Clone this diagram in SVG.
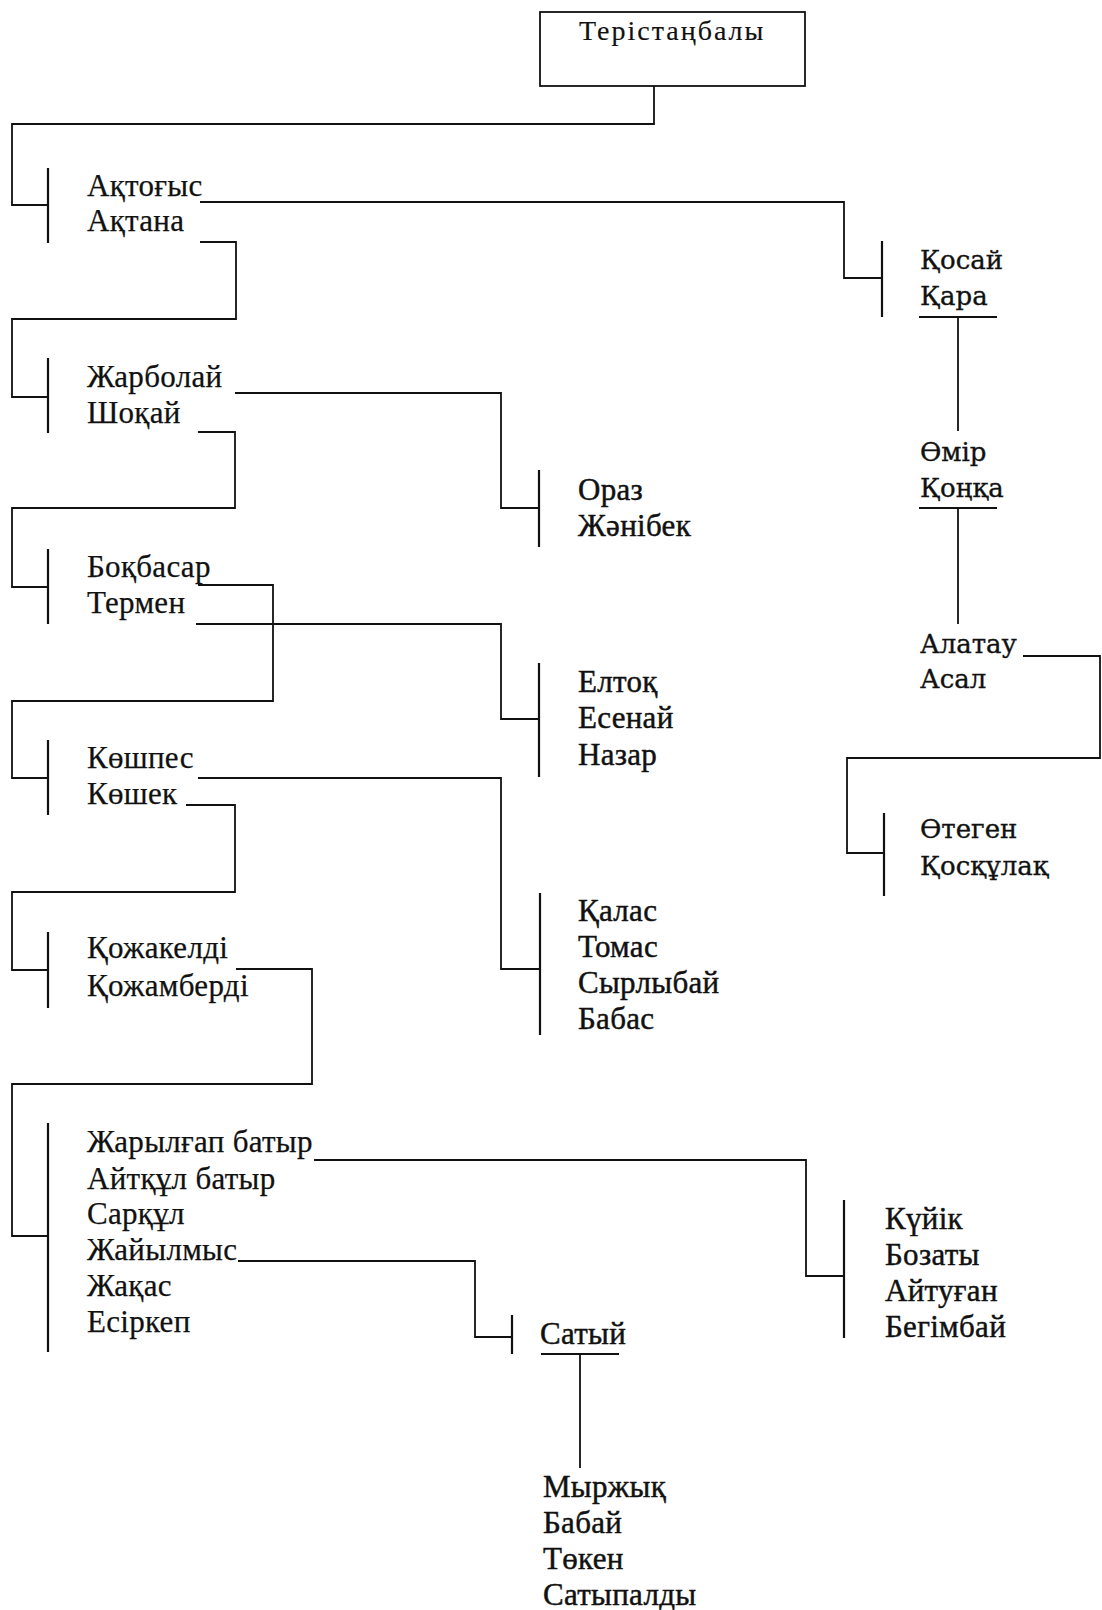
<svg xmlns="http://www.w3.org/2000/svg" width="1102" height="1610" viewBox="0 0 1102 1610">
<style>
.ln{fill:none;stroke:#111;stroke-width:1.8}
.br{stroke:#111;stroke-width:2.2}
.t{font-family:"Liberation Serif","Times New Roman",serif;font-size:31px;letter-spacing:0.3px;fill:#111;stroke:#111;stroke-width:0.25}
.h{stroke-width:0.45}
.r{font-family:"DejaVu Serif",serif;font-size:26px;fill:#111;stroke:#111;stroke-width:0.35}
</style>
<rect width="1102" height="1610" fill="#fff"/>
<g id="connectors">
<path class="ln" d="M654 86 V124 H12 V205 H48"/>
<path class="ln" d="M200 202 H844 V278 H882"/>
<path class="ln" d="M200 242 H236 V319 H12 V397 H48"/>
<path class="ln" d="M235 393 H501 V508 H539"/>
<path class="ln" d="M198 432 H235 V508 H12 V587 H48"/>
<path class="ln" d="M198 585 H273 V701 H12 V778 H48"/>
<path class="ln" d="M196 624 H501 V719 H539"/>
<path class="ln" d="M198 778 H501 V969 H540"/>
<path class="ln" d="M186 805 H235 V892 H12 V970 H48"/>
<path class="ln" d="M236 969 H312 V1084 H12 V1236 H48"/>
<path class="ln" d="M314 1160 H806 V1276 H844"/>
<path class="ln" d="M238 1261 H475 V1337 H512"/>
<path class="ln" d="M580 1354 V1468"/>
<path class="ln" d="M958 317 V431"/>
<path class="ln" d="M958 508 V624"/>
<path class="ln" d="M1023 656 H1100 V758 H847 V853 H884"/>
</g>
<g id="n-root">
<rect x="540" y="12" width="265" height="74" fill="none" stroke="#111" stroke-width="1.8"/>
<text class="t" x="579" y="40" style="font-size:28px;letter-spacing:2px;stroke-width:0.15">Терістаңбалы</text>
</g>
<g id="n-aktogys">
<line class="br" x1="48" y1="168" x2="48" y2="243"/>
<text class="t" x="87" y="196">Ақтоғыс</text>
<text class="t" x="87" y="231">Ақтана</text>
</g>
<g id="n-zharbolai">
<line class="br" x1="48" y1="358" x2="48" y2="433"/>
<text class="t" x="87" y="387">Жарболай</text>
<text class="t" x="87" y="423">Шоқай</text>
</g>
<g id="n-bokbasar">
<line class="br" x1="48" y1="549" x2="48" y2="624"/>
<text class="t" x="87" y="577">Боқбасар</text>
<text class="t" x="87" y="613">Термен</text>
</g>
<g id="n-koshpes">
<line class="br" x1="48" y1="740" x2="48" y2="815"/>
<text class="t" x="87" y="768">Көшпес</text>
<text class="t" x="87" y="804">Көшек</text>
</g>
<g id="n-kozhakeldi">
<line class="br" x1="48" y1="932" x2="48" y2="1008"/>
<text class="t" x="87" y="958">Қожакелді</text>
<text class="t" x="87" y="996">Қожамберді</text>
</g>
<g id="n-zharylgap">
<line class="br" x1="48" y1="1123" x2="48" y2="1352"/>
<text class="t" x="87" y="1152">Жарылғап батыр</text>
<text class="t" x="87" y="1189">Айтқұл батыр</text>
<text class="t" x="87" y="1224">Сарқұл</text>
<text class="t" x="87" y="1260">Жайылмыс</text>
<text class="t" x="87" y="1296">Жақас</text>
<text class="t" x="87" y="1332">Есіркеп</text>
</g>
<g id="n-oraz">
<line class="br" x1="539" y1="470" x2="539" y2="547"/>
<text class="t h" x="578" y="500">Ораз</text>
<text class="t h" x="578" y="536">Жәнібек</text>
</g>
<g id="n-eltok">
<line class="br" x1="539" y1="663" x2="539" y2="777"/>
<text class="t h" x="578" y="692">Елтоқ</text>
<text class="t h" x="578" y="728">Есенай</text>
<text class="t h" x="578" y="765">Назар</text>
</g>
<g id="n-kalas">
<line class="br" x1="540" y1="893" x2="540" y2="1035"/>
<text class="t h" x="578" y="921">Қалас</text>
<text class="t h" x="578" y="957">Томас</text>
<text class="t h" x="578" y="993">Сырлыбай</text>
<text class="t h" x="578" y="1029">Бабас</text>
</g>
<g id="n-kuiik">
<line class="br" x1="844" y1="1200" x2="844" y2="1338"/>
<text class="t h" x="885" y="1229">Күйік</text>
<text class="t h" x="885" y="1265">Бозаты</text>
<text class="t h" x="885" y="1301">Айтуған</text>
<text class="t h" x="885" y="1337">Бегімбай</text>
</g>
<g id="n-satyi">
<line class="br" x1="512" y1="1315" x2="512" y2="1354"/>
<text class="t h" x="540" y="1344">Сатый</text>
<line class="br" x1="541" y1="1354" x2="619" y2="1354"/>
</g>
<g id="n-myrzhyk">
<text class="t h" x="543" y="1497">Мыржық</text>
<text class="t h" x="543" y="1533">Бабай</text>
<text class="t h" x="543" y="1569">Төкен</text>
<text class="t h" x="543" y="1605">Сатыпалды</text>
</g>
<g id="n-kosai">
<line class="br" x1="882" y1="241" x2="882" y2="317"/>
<text class="r" x="920" y="269">Қосай</text>
<text class="r" x="920" y="305">Қара</text>
<line class="br" x1="919" y1="317" x2="997" y2="317"/>
</g>
<g id="n-omir">
<text class="r" x="920" y="461">Өмір</text>
<text class="r" x="920" y="497">Қоңқа</text>
<line class="br" x1="919" y1="508" x2="997" y2="508"/>
</g>
<g id="n-alatau">
<text class="r" x="920" y="653">Алатау</text>
<text class="r" x="920" y="688">Асал</text>
</g>
<g id="n-otegen">
<line class="br" x1="884" y1="813" x2="884" y2="896"/>
<text class="r" x="920" y="838">Өтеген</text>
<text class="r" x="920" y="875">Қосқұлақ</text>
</g>
</svg>
